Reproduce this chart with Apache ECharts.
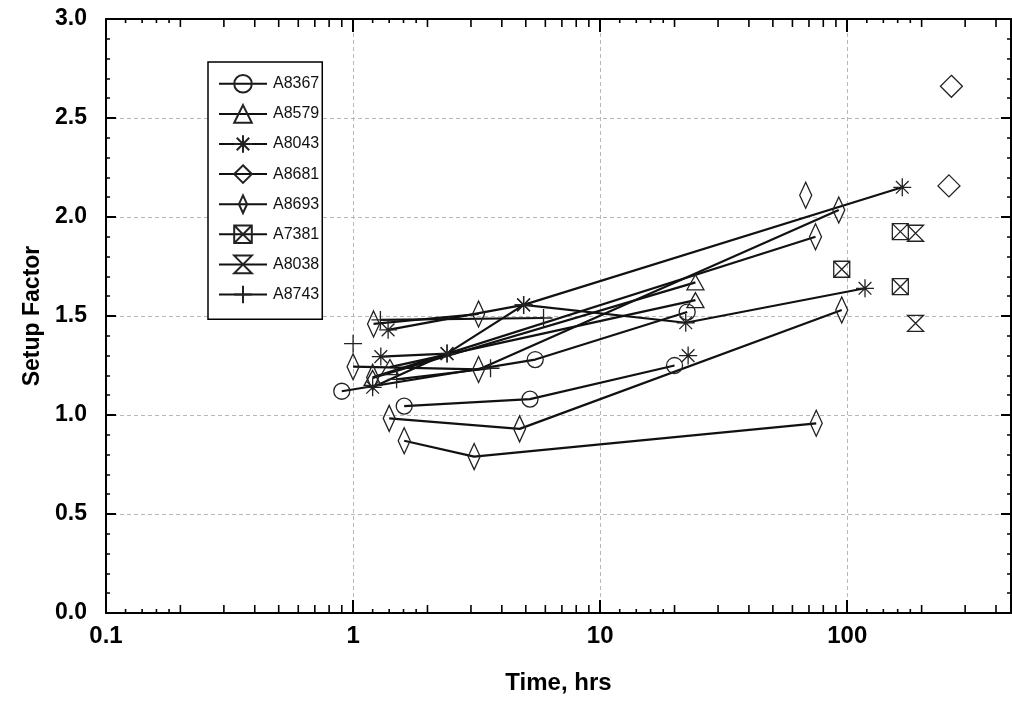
<!DOCTYPE html>
<html><head><meta charset="utf-8">
<script src="https://cdn.jsdelivr.net/npm/echarts@6/dist/echarts.min.js"></script>
<style>html,body{margin:0;padding:0;background:#fff}#c{width:1012px;height:704px}</style>
</head><body><div id="c"></div>
<script>
// ---- data (time in hrs, setup factor) ----
const seriesNames = ['A8367','A8579','A8043','A8681','A8693','A7381','A8038','A8743'];
const A8367 = [
  [[0.90,1.12],[5.46,1.28],[22.5,1.52]],
  [[1.61,1.045],[5.20,1.08],[20.0,1.25]]
];
const A8579 = [
  [[1.20,1.187],[24.3,1.67]],
  [[1.41,1.242],[24.3,1.58]]
];
const A8043 = [
  [[1.20,1.14],[2.40,1.31],[4.90,1.556],[167,2.15]],
  [[1.386,1.43],[4.90,1.556],[22.2,1.466],[118,1.64]],
  [[1.295,1.295],[2.40,1.31]],
  [[22.7,1.30]]
];
const A8681 = [
  [[264,2.66]],
  [[258,2.157]]
];
const A8693 = [
  [[1.61,0.87],[3.09,0.79],[74.9,0.958]],
  [[1.40,0.983],[4.72,0.93],[95,1.53]],
  [[1.21,1.46],[3.22,1.51]],
  [[1.20,1.19],[74.4,1.90]],
  [[1.00,1.244],[3.22,1.23],[92.4,2.035]],
  [[67.9,2.11]]
];
const A7381 = [
  [[95,1.736]],
  [[164,1.926]],
  [[164,1.648]]
];
const A8038 = [
  [[189,1.918]],
  [[189,1.463]]
];
const A8743 = [
  [[1.29,1.48],[5.9,1.49]],
  [[1.00,1.36]],
  [[1.50,1.18],[3.6,1.236]]
];
const xMinorSmall = [0.12,0.14,0.16,0.18,1.2,1.4,1.6,1.8,12,14,16,18,120,140,160,180];
const xMinorMid = [0.2,0.3,0.4,0.5,0.6,0.7,0.8,0.9,2,3,4,5,6,7,8,9,20,30,40,50,60,70,80,90,200,300,400];

// ---- styling ----
const groups = {A8367, A8579, A8043, A8681, A8693, A7381, A8038, A8743};
const symbolOf = {
  A8367: {symbol:'circle', size:16},
  A8579: {symbol:'triangle', size:[17,15]},
  A8043: {symbol:'path://M10 0L10 20M0 10L20 10M2.93 2.93L17.07 17.07M17.07 2.93L2.93 17.07', size:18},
  A8681: {symbol:'diamond', size:22},
  A8693: {symbol:'path://M13 0L19 13L13 26L7 13ZM0 13L0 13M26 13L26 13', size:26},
  A7381: {symbol:'path://M0 0L20 0L20 20L0 20ZM0 0L20 20M20 0L0 20', size:16},
  A8038: {symbol:'path://M0 0L20 0L0 20L20 20Z', size:16},
  A8743: {symbol:'path://M10 0L10 20M0 10L20 10', size:18}
};
const FONT = "'Liberation Sans', Arial, Helvetica, sans-serif";

const series = [];
seriesNames.forEach(name => {
  groups[name].forEach(pl => {
    series.push({
      name: name, type: 'line', data: pl,
      symbol: symbolOf[name].symbol, symbolSize: symbolOf[name].size,
      showSymbol: true, showAllSymbol: true, clip: false,
      lineStyle: {color: '#111', width: 2.2},
      itemStyle: {color: 'rgba(0,0,0,0)', borderColor: '#222', borderWidth: 1.3},
      emphasis: {disabled: true}, z: 3
    });
  });
});
series.push({
  type: 'custom', coordinateSystem: 'cartesian2d', xAxisIndex: 0, yAxisIndex: 0,
  silent: true, z: 5, clip: false,
  data: xMinorSmall.map(v => [v, 1, 0]).concat(xMinorMid.map(v => [v, 1, 1])),
  renderItem: function (params, api) {
    const cs = params.coordSys;
    const px = api.coord([api.value(0), 1])[0];
    const len = api.value(2) ? 8 : 4;
    const b = cs.y + cs.height, t = cs.y;
    return {type: 'group', children: [
      {type: 'line', shape: {x1: px, y1: b, x2: px, y2: b - len}, style: {stroke: '#000', lineWidth: 1.6}},
      {type: 'line', shape: {x1: px, y1: t, x2: px, y2: t + len}, style: {stroke: '#000', lineWidth: 1.6}}
    ]};
  }
});

const axisLine = {show: true, onZero: false, lineStyle: {color: '#000', width: 2}};
const dashed = {show: true, lineStyle: {color: '#b8b8b8', width: 1, type: [4, 3]}};
const labelStyle = {fontFamily: FONT, fontWeight: 'bold', color: '#000'};

const option = {
  backgroundColor: '#fff',
  animation: false,
  grid: {left: 106, right: 1, top: 19, bottom: 91, containLabel: false},
  legend: {
    data: seriesNames, orient: 'vertical', left: 208, top: 62,
    itemWidth: 48, itemHeight: 22, itemGap: 10.5,
    padding: [12, 3, 15, 10],
    backgroundColor: '#fff', borderColor: '#000', borderWidth: 1.5,
    textStyle: {fontFamily: FONT, fontSize: 16, color: '#111', padding: [0, 0, 0, 1]},
    selectedMode: false
  },
  xAxis: [
    {type: 'log', logBase: 10, min: 0.1, max: 460, position: 'bottom',
     axisLine: axisLine,
     axisTick: {show: true, inside: true, length: 13, lineStyle: {color: '#000', width: 2}},
     splitLine: dashed,
     axisLabel: Object.assign({fontSize: 24, margin: 11, showMaxLabel: false,
       formatter: v => String(+(+v).toPrecision(3))}, labelStyle),
     name: 'Time, hrs', nameLocation: 'middle', nameGap: 58,
     nameTextStyle: Object.assign({fontSize: 24}, labelStyle)},
    {type: 'log', logBase: 10, min: 0.1, max: 460, position: 'top',
     axisLine: axisLine,
     axisTick: {show: true, inside: true, length: 13, lineStyle: {color: '#000', width: 2}},
     splitLine: {show: false}, axisLabel: {show: false}}
  ],
  yAxis: [
    {type: 'value', min: 0, max: 3, interval: 0.5, position: 'left',
     axisLine: axisLine,
     axisTick: {show: true, inside: true, length: 10, lineStyle: {color: '#000', width: 2}},
     minorTick: {show: true, splitNumber: 5, length: 4, lineStyle: {color: '#000', width: 1.5}},
     splitLine: dashed,
     axisLabel: Object.assign({fontSize: 23, margin: 19, formatter: v => v.toFixed(1)}, labelStyle),
     name: 'Setup Factor', nameLocation: 'middle', nameGap: 62,
     nameTextStyle: Object.assign({fontSize: 23}, labelStyle)},
    {type: 'value', min: 0, max: 3, interval: 0.5, position: 'right',
     axisLine: axisLine,
     axisTick: {show: true, inside: true, length: 10, lineStyle: {color: '#000', width: 2}},
     minorTick: {show: true, splitNumber: 5, length: 4, lineStyle: {color: '#000', width: 1.5}},
     splitLine: {show: false}, axisLabel: {show: false}}
  ],
  series: series
};
const chart = echarts.init(document.getElementById('c'), null, {renderer: 'canvas'});
chart.setOption(option);
</script></body></html>
